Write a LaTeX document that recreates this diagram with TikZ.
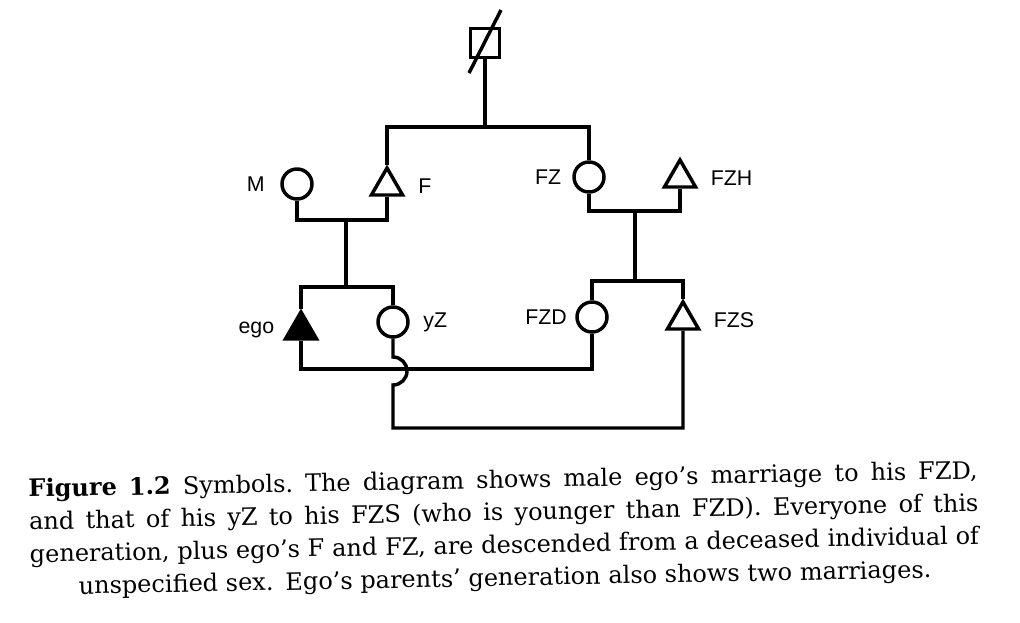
\documentclass[tikz,border=0pt]{standalone}
\usepackage{fontspec}
\setmainfont{DejaVu Serif}
\setsansfont{Liberation Sans}
\usetikzlibrary{positioning,shapes.geometric}

\begin{document}
\begin{tikzpicture}[
  x = 0.75pt, y = -0.75pt,
  line width = 2.6pt,
  male/.style = {regular polygon, regular polygon sides=3, draw,
    inner sep=0pt, minimum size=27pt},
  ego/.style = {male, fill},
  female/.style = {circle, draw, inner sep=0pt, minimum size=22.5pt},
  unknown/.style = {rectangle, draw, inner sep=0pt, minimum size=21.75pt},
  lbl/.style = {font=\sffamily\fontsize{16}{16}\selectfont, inner sep=0pt},
  caption/.style = {font=\fontsize{18}{24.5}\selectfont, inner sep=0pt,
    text width=712pt, anchor=base west, rotate=1.1}
]
\useasboundingbox (0,0) rectangle (1020,622);

% individuals
\node[unknown] (anc) at (485,43) {};
\node[female] (M)   at (297,184) {};
\node[male]   (F)   at (387,186) {};
\node[female] (FZ)  at (589,177) {};
\node[male]   (FZH) at (680,178) {};
\node[ego]    (ego) at (301,330) {};
\node[female] (yZ)  at (393,322) {};
\node[female] (FZD) at (592,317) {};
\node[male]   (FZS) at (683,320) {};

\node[lbl, left=10.5pt of M]    (Mlbl)   {M};
\node[lbl, right=13pt of F]     (Flbl)   {F};
\node[lbl, left=7pt of FZ]      (FZlbl)  {FZ};
\node[lbl, right=12.5pt of FZH] (FZHlbl) {FZH};
\node[lbl, left=9.5pt of ego]   (egolbl) {ego};
\node[lbl, right=9pt of yZ]     (yZlbl)  {yZ};
\node[lbl, left=5pt of FZD]     (FZDlbl) {FZD};
\node[lbl, right=12.5pt of FZS] (FZSlbl) {FZS};

% junctions
\coordinate (top)  at (485,127);
\coordinate (mMF)  at (346,220);
\coordinate (sEgo) at (346,287);
\coordinate (mFZ)  at (635,211);
\coordinate (sFZD) at (635,281);
\coordinate (mEgo) at (450,369);
\coordinate (hop)  at (393,357);
\coordinate (mYZ)  at (540,428);

% deceased
\draw ([shift={(16,-33)}]anc.center) -- ([shift={(-16,30)}]anc.center);
\draw (anc) -- (top);
\draw (F.north) |- (top) -| (FZ.north);

% parents' generation
\draw (M.south) |- (mMF) -| (F.south);
\draw (mMF) -- (sEgo);
\draw (ego.north) |- (sEgo) -| (yZ.north);
\draw (FZ.south) |- (mFZ) -| (FZH.south);
\draw (mFZ) -- (sFZD);
\draw (FZD.north) |- (sFZD) -| (FZS.north);

% ego's generation
\draw (ego.south) |- (mEgo) -| (FZD.south);
\draw (yZ.south) -- (hop) arc[start angle=-90, end angle=90, radius=14]
  |- (mYZ) -| (FZS.south);

\node[caption] (cap) at (27,497) {%
  \spaceskip=0.32em plus 1em minus 0.1em\relax
  \hbox to \linewidth{\textbf{Figure 1.2} Symbols. The diagram shows male ego’s marriage to his FZD,}
  \hbox to \linewidth{and that of his yZ to his FZS (who is younger than FZD). Everyone of this}
  \hbox to \linewidth{generation, plus ego’s F and FZ, are descended from a deceased individual of}
  \hbox to \linewidth{\hss unspecified sex. Ego’s parents’ generation also shows two marriages.\hss}};

\end{tikzpicture}
\end{document}
